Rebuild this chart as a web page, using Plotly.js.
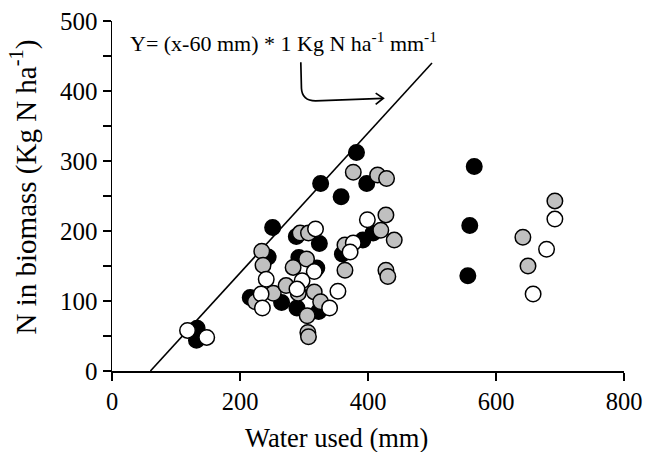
<!DOCTYPE html>
<html>
<head>
<meta charset="utf-8">
<script src="https://cdn.plot.ly/plotly-3.0.1.min.js"></script>
<style>
  html, body { margin: 0; padding: 0; background: #fff; }
  #chart { width: 645px; height: 452px; }
</style>
</head>
<body>
<div id="chart"></div>
<script>
// Water used (mm) and N in biomass (kg N/ha), one pair of arrays per group
const blackWater = [133, 132, 382, 398, 326, 358, 251, 408, 392, 360, 288, 324, 244, 216, 265, 292, 320, 289, 323, 566, 559, 556];
const blackN     = [61, 44, 312, 268, 268, 249, 205, 197, 187, 167, 192, 182, 163, 105, 98, 162, 147, 90, 85, 292, 208, 136];

const grayWater = [377, 415, 429, 428, 420, 441, 364, 364, 428, 431, 294, 307, 234, 236, 224, 252, 272, 304, 283, 291, 316, 326, 305, 306, 307, 642, 650, 692];
const grayN     = [284, 280, 275, 223, 201, 187, 180, 144, 144, 135, 197, 197, 171, 151, 99, 111, 122, 160, 148, 111, 113, 99, 79, 55, 49, 191, 150, 243];

const whiteWater = [118, 148, 241, 233, 235, 318, 316, 297, 289, 340, 353, 399, 377, 372, 679, 692, 658];
const whiteN     = [58, 48, 131, 110, 90, 203, 142, 129, 117, 90, 114, 216, 183, 170, 174, 217, 110];

// Boundary line: Y = (x - 60 mm) * 1 kg N/ha per mm
const lineIntercept = 60;
const lineSlope = 1;
const lineWater = [60, 500];
const lineN = lineWater.map(x => (x - lineIntercept) * lineSlope);

const xTicks = [0, 200, 400, 600, 800];
const yTicks = [0, 100, 200, 300, 400, 500];

const FONT = 'Liberation Serif, "Times New Roman", serif';

function pts(x, y, fill) {
  return {
    x: x, y: y, type: 'scatter', mode: 'markers', hoverinfo: 'skip',
    marker: { size: 15.5, color: fill, line: { color: '#000', width: 1.5 } }
  };
}

const traces = [
  {
    x: lineWater, y: lineN, type: 'scatter', mode: 'lines', hoverinfo: 'skip',
    line: { color: '#000', width: 1.6 }
  },
  pts(blackWater, blackN, '#000'),
  pts(grayWater, grayN, '#c0c0c0'),
  pts(whiteWater, whiteN, '#fff')
];

const layout = {
  width: 645, height: 452,
  margin: { l: 112, r: 21, t: 21, b: 81 },
  paper_bgcolor: '#fff', plot_bgcolor: '#fff',
  showlegend: false,
  font: { family: FONT, color: '#000', size: 24 },
  xaxis: {
    range: [0, 800], tickvals: xTicks, ticktext: xTicks.map(String),
    showgrid: false, zeroline: false, showline: true, linecolor: '#000', linewidth: 1.5,
    ticks: 'outside', ticklen: 8, tickwidth: 1.5, tickcolor: '#000',
    tickfont: { family: FONT, size: 24.5, color: '#000' }
  },
  yaxis: {
    range: [0, 500], tickvals: yTicks, ticktext: yTicks.map(String),
    showgrid: false, zeroline: false, showline: true, linecolor: '#000', linewidth: 1.5,
    ticks: 'outside', ticklen: 8, tickwidth: 1.5, tickcolor: '#000',
    minor: { dtick: 50, tick0: 0, ticks: 'outside', ticklen: 8, tickwidth: 1.5, tickcolor: '#000', showgrid: false },
    tickfont: { family: FONT, size: 25, color: '#000' }
  },
  shapes: [
    // curved pointer from the equation to the line
    {
      type: 'path', xref: 'x', yref: 'y',
      path: 'M 295,441 L 296,404 Q 297,386 318,386 L 423,389.6',
      line: { color: '#000', width: 1.7 }
    },
    {
      type: 'path', xref: 'x', yref: 'y',
      path: 'M 412,397 L 424,389.6 L 412,381',
      line: { color: '#000', width: 1.7 }
    }
  ],
  annotations: [
    {
      xref: 'x', yref: 'y', x: 25, y: 470, xanchor: 'left', yanchor: 'middle',
      showarrow: false,
      text: 'Y= (x-60 mm) * 1 Kg N ha<sup>-1</sup> mm<sup>-1</sup>',
      font: { family: FONT, size: 22, color: '#000' }
    },
    // axis titles
    {
      xref: 'paper', yref: 'paper', x: 0.4385, y: -0.19, xanchor: 'center', yanchor: 'middle',
      showarrow: false, text: 'Water used (mm)',
      font: { family: FONT, size: 26.5, color: '#000' }
    },
    {
      xref: 'paper', yref: 'paper', x: -0.172, y: 0.527, xanchor: 'center', yanchor: 'middle',
      showarrow: false, textangle: -90, text: 'N in biomass (Kg N ha<sup>-1</sup>)',
      font: { family: FONT, size: 29, color: '#000' }
    }
  ]
};

Plotly.newPlot('chart', traces, layout, { displayModeBar: false, staticPlot: true });
</script>
</body>
</html>
